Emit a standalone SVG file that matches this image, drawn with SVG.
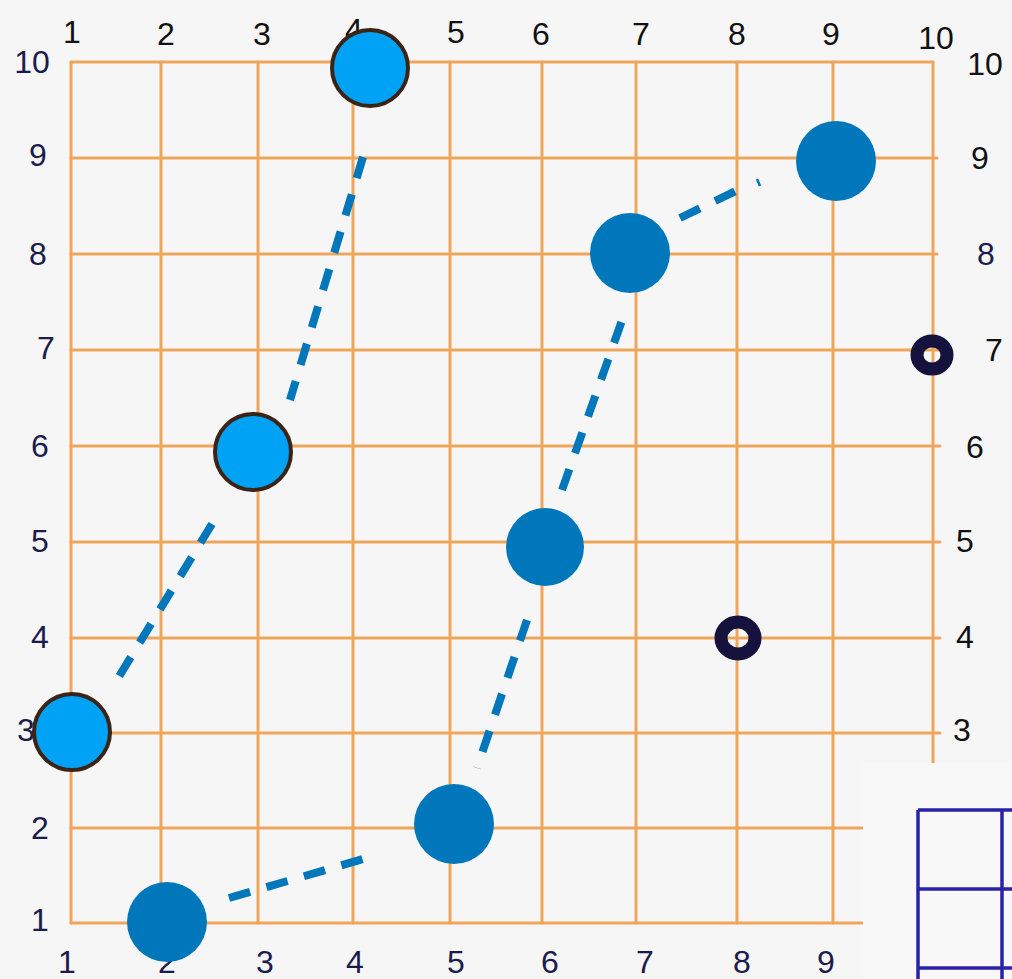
<svg xmlns="http://www.w3.org/2000/svg" width="1012" height="979" viewBox="0 0 1012 979">
<style>
.g{stroke:#f0a55c;stroke-width:3;fill:none;stroke-linecap:round}
.lbl{font-family:"Liberation Sans",Arial,sans-serif;font-size:32px;text-anchor:middle;dominant-baseline:central}
.top{fill:#111}
.side{fill:#1c1c4c}
.lb{fill:#00a2f5;stroke:#3a2418;stroke-width:4}
.db{fill:#0077bb}
.dash{stroke:#0077bb;stroke-width:8;stroke-dasharray:22 17;fill:none}
.ring{fill:none;stroke:#15123e;stroke-width:13}
.bg{stroke:#2a22a8;stroke-width:3.5;fill:none}
</style>
<rect width="1012" height="979" fill="#f6f6f6"/>
<g id="grid">
<path class="g" d="M71,62V923M161,62V923M258,62V923M353,62V923M450,62V923M542,62V923M636,62V923M737,62V923M833,62V923M933,62V763"/>
<path class="g" d="M71,62H933M71,158H937M71,254H937M71,350H940M71,446H940M71,542H940M71,638H940M71,733H940M71,828H862M71,923H862"/>
</g>
<g id="labels">
<text class="lbl top" x="72" y="32">1</text>
<text class="lbl top" x="166" y="34">2</text>
<text class="lbl top" x="262" y="34">3</text>
<text class="lbl top" x="354" y="30">4</text>
<text class="lbl top" x="456" y="32">5</text>
<text class="lbl top" x="541" y="34">6</text>
<text class="lbl top" x="641" y="34">7</text>
<text class="lbl top" x="737" y="34">8</text>
<text class="lbl top" x="831" y="34">9</text>
<text class="lbl top" x="936" y="38">10</text>
<text class="lbl top" x="985" y="64">10</text>
<text class="lbl side" x="32" y="62">10</text>
<text class="lbl side" x="38" y="155">9</text>
<text class="lbl side" x="38" y="254">8</text>
<text class="lbl side" x="46" y="348">7</text>
<text class="lbl side" x="40" y="446">6</text>
<text class="lbl side" x="40" y="541">5</text>
<text class="lbl side" x="40" y="637">4</text>
<text class="lbl side" x="26" y="730">3</text>
<text class="lbl side" x="40" y="828">2</text>
<text class="lbl side" x="40" y="920">1</text>
<text class="lbl top" x="980" y="158">9</text>
<text class="lbl side" x="986" y="254">8</text>
<text class="lbl top" x="994" y="350">7</text>
<text class="lbl top" x="975" y="447">6</text>
<text class="lbl top" x="965" y="541">5</text>
<text class="lbl top" x="965" y="637">4</text>
<text class="lbl top" x="962" y="730">3</text>
<text class="lbl side" x="67" y="962">1</text>
<text class="lbl side" x="167" y="962">2</text>
<text class="lbl side" x="265" y="962">3</text>
<text class="lbl side" x="355" y="962">4</text>
<text class="lbl side" x="456" y="962">5</text>
<text class="lbl side" x="550" y="962">6</text>
<text class="lbl side" x="645" y="962">7</text>
<text class="lbl side" x="742" y="962">8</text>
<text class="lbl side" x="826" y="962">9</text>
</g>
<g id="paper">
<rect x="863" y="763" width="149" height="216" fill="#f8f8f8"/>
<path class="bg" d="M918,810V979M1002,810V979M918,810H1012M918,889H1012M918,968H1012"/>
</g>
<g id="connectors">
<line class="dash" x1="363" y1="157" x2="290" y2="400"/>
<line class="dash" x1="212" y1="524" x2="112" y2="688"/>
<line class="dash" x1="229" y1="898" x2="370" y2="857"/>
<line class="dash" x1="527" y1="620" x2="477" y2="768"/>
<line class="dash" x1="562" y1="490" x2="625" y2="312"/>
<line class="dash" x1="680" y1="218" x2="742" y2="188"/>
<line x1="757" y1="179" x2="760" y2="186" stroke="#0077bb" stroke-width="2.5"/>
</g>
<g id="node-4-10"><circle class="lb" cx="370" cy="68" r="38"/></g>
<g id="node-3-6"><circle class="lb" cx="253" cy="452" r="38"/></g>
<g id="node-1-3"><circle class="lb" cx="72" cy="732" r="38"/></g>
<g id="node-2-1"><circle class="db" cx="167" cy="922" r="40"/></g>
<g id="node-5-2"><circle class="db" cx="454" cy="824" r="40"/></g>
<g id="node-6-5"><circle class="db" cx="545" cy="547" r="39"/></g>
<g id="node-7-8"><circle class="db" cx="630" cy="253" r="40"/></g>
<g id="node-9-9"><circle class="db" cx="836" cy="161" r="40"/></g>
<g id="ring-10-7"><ellipse class="ring" cx="932" cy="355" rx="15" ry="14"/></g>
<g id="ring-8-4"><ellipse class="ring" cx="738" cy="638" rx="17" ry="16"/></g>
</svg>
